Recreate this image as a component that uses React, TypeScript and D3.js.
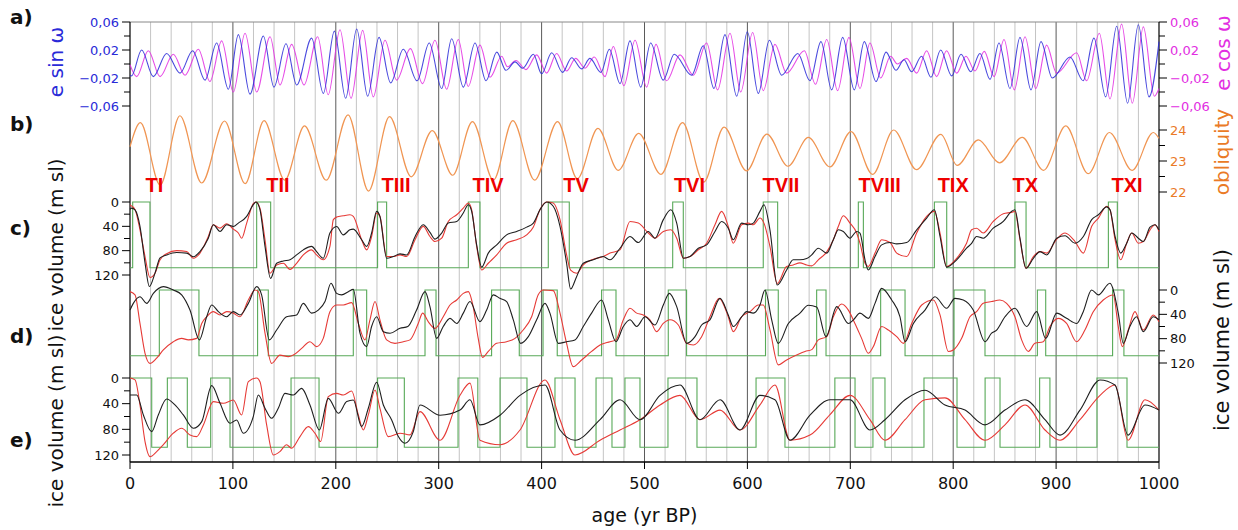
import React from "react";
import * as d3 from "d3";

type Pt = [number, number];

// ---------- data ----------
const AGE_TICKS = [0, 100, 200, 300, 400, 500, 600, 700, 800, 900, 1000];
const ECC_LABEL_TICKS = [0.06, 0.02, -0.02, -0.06];
const ECC_MINOR_TICKS = [0.04, 0, -0.04];
const OBL_LABEL_TICKS = [24, 23, 22];
const OBL_MINOR_TICKS = [23.5, 22.5];
const ICE_LABEL_TICKS = [0, 40, 80, 120];
const ICE_MINOR_TICKS = [20, 60, 100];

const TERMINATIONS: { label: string; age: number }[] = [
  { label: "TI", age: 23.8 },
  { label: "TII", age: 143.8 },
  { label: "TIII", age: 258.5 },
  { label: "TIV", age: 348 },
  { label: "TV", age: 433.4 },
  { label: "TVI", age: 543.7 },
  { label: "TVII", age: 632.6 },
  { label: "TVIII", age: 728.6 },
  { label: "TIX", age: 800 },
  { label: "TX", age: 870 },
  { label: "TXI", age: 969 },
];

const E_SIN_W: Pt[] = [[0,-0.016],[1.5,-0.017],[11.3,0.020],[22.7,-0.018],[35.6,0.015],[48.6,-0.013],[60.9,0.019],[72.9,-0.023],[84.2,0.030],[95.6,-0.036],[105.3,0.042],[116.6,-0.043],[129.6,0.040],[139.9,-0.033],[151.6,0.029],[162,-0.030],[176.5,0.037],[187.9,-0.042],[198.6,0.047],[209.6,-0.049],[220.3,0.050],[231,-0.046],[242,0.038],[253.3,-0.027],[265.6,0.021],[279,-0.024],[290.8,0.030],[302.9,-0.035],[312.6,0.036],[323.9,-0.033],[335.3,0.030],[346,-0.024],[356.4,0.017],[365.4,-0.009],[374.2,0.003],[381.6,-0.006],[392,0.014],[400,-0.014],[409.8,0.016],[420.4,-0.012],[429.2,0.009],[438.9,-0.007],[447,0.008],[457.7,-0.012],[465.8,0.021],[476.2,-0.028],[485.9,0.033],[496.3,-0.033],[506,0.030],[518.2,-0.023],[528.9,0.014],[545.8,-0.016],[557.1,0.026],[567.5,-0.035],[578.2,0.042],[589.6,-0.046],[599.9,0.046],[610.6,-0.042],[621.3,0.034],[633.3,-0.016],[649,0.015],[660.8,-0.024],[671.5,0.032],[681.9,-0.037],[692.6,0.038],[703.9,-0.037],[713.6,0.032],[725,-0.025],[734.7,0.017],[744.4,-0.009],[752.2,0.006],[759.6,-0.011],[769.3,0.011],[778.4,-0.019],[787.8,0.020],[798.5,-0.017],[807.6,0.014],[817,-0.011],[826,0.015],[835.8,-0.022],[844.5,0.030],[855.2,-0.035],[864.9,0.038],[875.6,-0.037],[885.3,0.032],[896.3,-0.020],[913.5,0.010],[926.3,-0.024],[936.8,0.037],[948.2,-0.047],[958.9,0.054],[969.5,-0.056],[979.9,0.056],[990.3,-0.047],[1000,0.032]];

const E_COS_W: Pt[] = [[0,-0.001],[6.5,-0.018],[17.8,0.019],[29.2,-0.018],[42.1,0.014],[53.5,-0.016],[66.4,0.021],[77.7,-0.025],[89.1,0.033],[100.4,-0.040],[111.8,0.044],[123.1,-0.040],[136.1,0.039],[145.8,-0.030],[157.1,0.028],[169.1,-0.030],[182.4,0.039],[192.6,-0.044],[204.1,0.049],[214.8,-0.049],[226.1,0.048],[236.4,-0.047],[247.8,0.034],[259.1,-0.023],[272.5,0.022],[284.3,-0.028],[296.4,0.034],[307.7,-0.036],[319,0.035],[328.7,-0.032],[340.1,0.027],[349.9,-0.019],[361.2,0.011],[366.8,-0.004],[375.1,0.005],[384.8,-0.008],[395.2,0.013],[404.9,-0.013],[414.6,0.015],[424.3,-0.010],[433.1,0.008],[442.2,-0.006],[451.2,0.010],[461.6,-0.018],[469.7,0.025],[480,-0.031],[490.8,0.034],[502.1,-0.033],[511.2,0.028],[521.5,-0.024],[534.5,0.013],[547.4,-0.016],[560.4,0.030],[571,-0.037],[583.1,0.044],[593.5,-0.040],[605.1,0.045],[615.4,-0.038],[626.8,0.028],[638.1,-0.013],[655.3,0.019],[666.2,-0.029],[677.1,0.035],[687.7,-0.038],[698.7,0.038],[709.4,-0.035],[719.1,0.030],[729.5,-0.020],[739.2,0.011],[745.7,0.000],[754.8,0.008],[764.5,-0.013],[774.2,0.019],[783.9,-0.018],[793.6,0.019],[803.4,-0.013],[812.4,0.011],[821.2,-0.010],[830.2,0.018],[839.7,-0.018],[849.4,0.035],[859.4,-0.037],[869.8,0.039],[880.2,-0.035],[890.8,0.027],[900.5,-0.013],[920,0.016],[929.7,-0.024],[942,0.044],[952.4,-0.050],[963.7,0.057],[974.1,-0.056],[984.8,0.053],[995.4,-0.046],[1000,-0.035]];

const OBLIQUITY: Pt[] = [[0,23.46],[10.1,24.24],[29.3,22.22],[48.5,24.46],[69.7,22.29],[91.9,24.29],[111.9,22.27],[130.3,24.30],[150.3,22.38],[169.6,24.13],[190.7,22.38],[211.9,24.49],[231.8,22.03],[252.2,24.43],[273.3,22.49],[293.7,23.98],[313.6,22.54],[332.8,24.27],[353.2,22.38],[372,24.30],[393.2,22.38],[415.5,24.27],[434.7,22.43],[454.7,24.05],[474.5,22.70],[494.3,23.89],[516,22.57],[537,24.24],[557.5,22.32],[577.3,24.09],[599.1,22.68],[618.9,23.87],[639.5,22.83],[659.2,23.76],[680.2,22.81],[700.7,23.95],[721.7,22.57],[742.2,24.00],[764.3,22.72],[788,23.86],[803.9,22.86],[824.5,23.68],[845,22.94],[867.1,23.76],[887.8,22.70],[909.4,24.13],[931.2,22.59],[951.8,23.92],[973.9,22.70],[994.5,23.92],[1000,23.73]];

const C_RED: Pt[] = [[0,5],[4.9,12.7],[9.7,45.7],[14.6,89.7],[19.4,124],[24.3,117],[29.2,95],[35.6,85],[45.4,80],[55.1,81.5],[61.6,92.5],[68,84],[76.1,56.7],[81,37.4],[87.5,43],[93.9,35.8],[100.4,44.6],[105.3,51],[108.5,59.5],[113.4,34.7],[119.8,2.8],[122.4,0],[126.3,10],[131.2,62],[136,117],[142.5,103.5],[149,100.7],[155.5,110.7],[161.9,100.7],[168.4,87],[176.5,78.7],[181.3,87],[187.8,95],[194.3,73],[197.6,29],[200.8,24.8],[207.3,22.6],[213.7,21],[217,23.7],[225.1,62],[230,78.7],[234.8,56.7],[239.7,18.2],[242.9,23.7],[249.4,89.7],[255.9,89.7],[262.4,87],[268.8,89.7],[277,62],[285,40],[291.5,56.7],[296.4,65],[302.9,59.5],[309.3,32],[317.5,21],[323.9,10],[328.8,1.7],[332,12.7],[336.9,73],[341.8,111.8],[348.2,100.7],[356.4,87],[366,67.7],[375.8,62],[385.5,54],[392,41],[398.4,12.7],[404.9,0],[411.3,1.7],[417.9,29],[424.3,87],[428.2,112],[434,117],[440.5,103.5],[450.2,94],[459.9,89.7],[466.5,84],[476.2,78.7],[485.9,32],[494,34.7],[503.7,51],[510.2,59.5],[518.3,48.4],[525.5,45.7],[531.3,59.5],[537.8,92.5],[544.2,89.7],[552.3,78.7],[560.4,67.7],[568.5,37.4],[575,15.4],[581.4,40],[586.3,67.7],[594.4,37.4],[600.9,34.7],[605.7,37.4],[612.2,26.4],[616.1,34.7],[621.9,73],[629,134],[638.1,106],[644.5,103.5],[651,100],[657.6,103.5],[662.5,105],[668.9,95],[677.1,82],[683.5,62],[688.4,40],[693.2,22.6],[699.7,34.7],[706.2,51],[709.4,67.7],[714.3,100.7],[717.5,106],[724,84],[730.5,62],[738.6,66.6],[745.1,84],[754.8,89.7],[764.5,51],[774.2,23.7],[781.7,15.4],[787.2,51],[793.6,106],[803.4,92.5],[813,67.7],[817.9,45.7],[822.7,43.1],[829.2,51],[838.9,32],[848.7,19.3],[856.7,17],[860,15.4],[864.9,62],[870.7,109],[877.9,89.7],[884.4,81.5],[890.9,84],[900.6,61],[908.7,51],[918.4,65],[926.5,84],[934.6,40],[941.1,26.4],[949.2,7],[952.4,12.7],[957.3,62],[962.8,95],[968.6,67.7],[973.5,51],[979.9,67.7],[984.8,65],[991.3,45.7],[996.1,37.4],[1000,48.4]];

const C_BLACK: Pt[] = [[0,12],[1.6,10],[4.9,13],[9.7,40],[14.6,100],[18.8,139],[24.3,117],[29.2,92],[35.6,87],[45.4,83],[55.1,84],[61.6,90],[68,81.5],[76.1,59.5],[81,37.4],[87.5,48.4],[93.9,37.4],[100.4,40.2],[105.3,34.7],[113.4,23.7],[119.8,4.4],[122.4,0],[126.3,12.7],[131.2,73],[136.6,125.5],[142.5,100.7],[149,97],[155.5,95],[161.9,87],[168.4,78.7],[176.5,73],[181.3,81.5],[187.8,92.5],[194.3,51],[200.8,40.2],[207.3,54],[213.7,45.7],[217,44.6],[225.1,62],[230,73],[234.8,51],[239.7,15.4],[242.9,23.7],[249.4,92.5],[255.9,89.7],[262.4,85.3],[268.8,87],[277,57],[285,37.4],[291.5,50],[296.4,61],[302.9,51],[309.3,34.7],[317.5,32],[323.9,18],[328.8,4.4],[332,15],[336.9,70.5],[341.8,107],[348.2,84],[356.4,70.5],[366,54],[375.8,48.4],[385.5,41.3],[392,34.7],[398.4,12.7],[404.9,0],[411.3,7],[417.9,40],[424.3,100.7],[428.2,143],[434,122.7],[440.5,100.7],[450.2,95],[459.9,89.7],[466.5,95],[476.2,76],[485.9,56.7],[494,66.6],[503.7,48.4],[510.2,59.5],[518.3,29],[525.5,12.7],[531.3,34.7],[537.8,92.5],[544.2,89.7],[552.3,76],[560.4,70.5],[568.5,48.4],[575,32],[581.4,43],[586.3,62],[594.4,34.7],[600.9,37.4],[605.7,34.7],[612.2,15.4],[616.1,4.4],[621.9,45.7],[629,136.5],[638.1,111.8],[644.5,95],[651.1,95],[657.6,93],[662.5,87],[668.9,76],[677.1,84],[683.5,62],[688.4,45.7],[693.2,48.4],[699.7,59.5],[706.2,48.4],[709.4,51],[714.3,95],[717.5,111.8],[724,89.7],[730.5,70.5],[738.6,66.6],[745.1,68.8],[754.8,66.6],[764.5,45.7],[774.2,26.4],[781.7,12.7],[787.2,56.7],[793.6,107],[803.4,95],[813,76],[817.9,68],[822.7,56.7],[829.2,59.5],[838.9,43],[848.7,32],[856.7,15.4],[860,12.7],[864.9,59.5],[870.7,109],[877.9,92.5],[884.4,81.5],[890.9,87],[900.6,59.5],[908.7,55.6],[918.4,67.7],[926.5,56.7],[934.6,29],[941.1,21],[949.2,8],[952.4,12.7],[957.3,56.7],[962.8,84],[968.6,67.7],[973.5,51],[979.9,59.5],[984.8,65],[991.3,41.3],[996.1,37.4],[1000,46]];

const C_GREEN: Pt[] = [[0,108],[2.6,0],[19.4,108],[123.1,0],[136.7,108],[240.6,0],[249.4,108],[328.8,0],[340.1,108],[406.5,0],[426.9,108],[527.4,0],[537.7,108],[615.4,0],[629.4,108],[707.8,0],[712.7,108],[781.7,0],[793.7,108],[860,0],[870.8,108],[950.8,0],[959.5,108],[1000,108]];

const D_RED: Pt[] = [[0,2.7],[4.9,8],[9.7,55],[14.6,104],[19.4,120.6],[25.9,112],[32.4,98.6],[42.1,85],[50.2,79.5],[56.7,82],[64.8,79.5],[69.7,55],[74.5,44],[81,35.6],[87.5,41],[93.9,35.6],[100.4,38],[106.9,44],[115,16.4],[121.5,0],[124.7,2.7],[131.2,71],[137.6,120.6],[145.7,107],[153.8,109.6],[158.7,107],[166.8,96],[174.9,85],[181.3,93],[187.8,79.5],[194.3,35.6],[200.8,24.7],[207.3,24.7],[215.4,20.8],[221.9,55],[228.3,82],[233.2,49],[238.1,19],[242.9,49],[249.4,82],[257.5,87.7],[265.6,85],[272.1,82],[280.1,55],[284.4,38],[289.8,52],[296.4,63],[304.4,44],[311,24.7],[317.5,16.4],[323.9,5.5],[328.8,2.7],[333.5,27.4],[338.4,79.5],[342.6,110.7],[348.2,101],[356.3,87.7],[366,85],[374.2,79.5],[382.1,65.8],[390.3,44],[396.7,8],[401.6,0],[411.3,1],[417.9,38],[424.3,87.7],[430.7,126],[438.9,115],[448.6,101],[456.8,90.4],[466.5,85],[472.3,82],[479.4,49],[485.9,30],[492.4,38],[498.8,41],[505.3,49],[511.8,68.5],[518.2,55],[524.8,49],[532.9,57.5],[540.9,87.7],[547.4,90.4],[555.5,76.7],[563.6,44],[572.6,13.7],[581.4,44],[586.3,68.5],[594.4,44],[602.5,35.6],[610.6,24.7],[615.4,24.7],[622,65.8],[630,123],[638.1,115],[647.8,107],[656,101],[662.5,98],[668.9,82],[677.1,76.7],[683.5,44],[691.6,23],[698.1,33],[704.5,55],[711,79.5],[717.5,104],[722.4,93],[730.5,60],[737,65.8],[745.1,76.7],[751.6,87.7],[759.7,55],[769.4,24.7],[780.7,16.4],[787.2,41],[795.3,101],[800.1,98.6],[808.2,79.5],[816.3,44],[822.7,35.6],[829.2,21.9],[837.3,19],[845.4,16.4],[851.9,21.9],[860,44],[866.5,82],[873,101],[879.4,87.7],[887.5,85],[894,60],[902.1,46.6],[910.2,55],[919.9,85],[928,65.8],[936.1,35.6],[945.8,16.4],[955.5,8.2],[960.4,60],[964.3,93],[970.1,65.8],[976.6,35.6],[984.7,65.8],[994.4,41],[1000,52]];

const D_BLACK: Pt[] = [[0,33],[3.2,22],[9.7,11],[16.2,22],[22.7,5.5],[32.4,-5.5],[42.1,0],[50.2,8],[58.3,33],[67.4,82],[74.5,44],[79.4,24.7],[85.9,35.6],[93.9,44],[100.4,35.6],[106.9,41],[115,22],[123.1,-5.5],[127.9,8],[135.4,82],[142.5,65.8],[152.2,44],[161.9,41],[168.4,22],[176.5,38],[183,33],[189.5,19],[195.3,-11],[200.8,5.5],[205.7,8],[212.2,2.7],[217,-1],[223.5,71],[230,93],[234.8,60],[239.7,44],[246.2,68.5],[252.7,71],[262.4,63],[270,60],[278.5,33],[286.7,2.7],[291.5,27.4],[298,79.5],[304.4,60],[311,46.6],[317.5,55],[323.9,38],[330.4,19],[340.1,52],[346.6,33],[353.1,8],[359.5,13.7],[366,19],[372.5,49],[379.6,87.7],[387.1,76.7],[395.2,49],[403.3,22],[408.1,38],[416.2,87.7],[424.3,85],[432.4,82],[440.5,60],[448.6,38],[458.3,16.4],[464.8,49],[472.3,85],[479.4,60],[485.9,49],[492.4,60],[500.5,44],[510.2,57.5],[518.3,24.7],[524.1,5.5],[531.3,27.4],[541,87.7],[549.1,76.7],[555.5,57.5],[563.6,49],[573.4,13.7],[581.4,41],[586.3,60],[594.4,44],[599.3,35.6],[605.7,38],[612.2,24.7],[617.1,0],[623.6,49],[630,87.7],[639.8,55],[651.1,38],[659.2,25],[667.3,28],[676.4,76.7],[686.8,27.4],[698.1,55],[703,49],[709.4,38],[717.5,46.6],[724,22],[730.5,-2.7],[740.2,16.4],[748.3,44],[753.2,85],[761.3,55],[772.6,33],[782.3,11],[793.6,30],[801.7,13.7],[809.8,16.4],[819.5,33],[830.9,85],[837.3,71],[842.2,65.8],[850.3,44],[860,30],[871.4,60],[881.1,35.6],[889.9,79.5],[900.6,38],[910.2,46.6],[920,55],[926.4,35.6],[934.5,0],[941,8],[952.3,-11],[960.4,38],[965.3,87.7],[971.7,60],[978.2,44],[984.7,68.5],[994.4,44],[1000,49]];

const D_GREEN: Pt[] = [[0,108],[28.5,0],[67,108],[124,0],[134.4,108],[217,0],[230,108],[286.7,0],[297.4,108],[351.4,0],[378.3,108],[401.4,0],[415.2,108],[458.3,0],[472.3,108],[523.1,0],[540.9,108],[617.6,0],[630,108],[667.3,0],[676.4,108],[729.5,0],[753.2,108],[800.8,0],[830.9,108],[881.8,0],[889.9,108],[954.9,0],[965.9,108],[1000,108]];

const E_RED: Pt[] = [[0,0],[4.9,3],[9.7,42],[14.6,99],[19.4,122.5],[25.9,114.7],[32.4,104],[42.1,86],[50.2,78.4],[58.3,88.7],[64.8,91.3],[71.3,73.2],[81,36.8],[90.7,39.4],[100.4,34.3],[108.5,57.6],[115,5.7],[123.1,0],[126.3,5.7],[132.8,73.2],[139.3,120],[145.7,114.7],[152.2,104],[157.1,109.5],[165.2,91.3],[173.3,75.8],[179.7,86],[185.3,99],[192.7,29],[200.8,23.9],[207.3,26.5],[215.4,20.2],[221.9,57.6],[226.7,81],[231.6,57.6],[238.1,18.7],[242.9,47.2],[251,91.3],[262.4,86],[272.1,88.7],[281.8,52.4],[301.3,97],[320.7,27],[330.4,8],[340.1,97],[359.6,104],[379,81],[403.3,3],[417.9,65],[432.5,120],[456.8,97],[476.2,81],[495.6,65],[515.1,42],[534.5,27],[553.9,65],[573.4,50],[592.8,81],[612.2,42],[626.8,11],[641.4,97],[660.8,89],[680.3,57],[699.7,27],[719.1,65],[733.7,97],[753.2,65],[772.6,34],[792,31],[811.5,65],[830.9,97],[850.3,73],[869.8,42],[889.2,81],[903.8,97],[923.2,65],[942.7,27],[957.2,11],[969.9,97],[986.4,34],[1000,50]];

const E_BLACK: Pt[] = [[0,26.5],[6.5,26.5],[13,57.6],[21.1,83.6],[27.5,57.6],[35.6,32.7],[43.7,42],[51.8,57.6],[61.6,78.4],[69.7,68],[79.4,11.9],[87.5,39.4],[97.2,70.6],[103.6,65.4],[110.1,86],[119.8,60.2],[124.7,26.5],[131.2,47.2],[137.6,62.8],[144.1,47.2],[150.6,23.9],[158.7,26.5],[166.8,16.1],[174.9,42],[184,81],[192.7,31.7],[202.5,55],[210.6,36.8],[217,34.3],[225.1,75.8],[231.6,47.2],[239.7,6.7],[246.2,42],[254.3,65.4],[260.8,91.3],[267.2,101.7],[275.3,83.6],[281.8,42],[301.3,58],[320.7,50],[330.4,34],[340.1,73],[359.6,58],[379,27],[403.3,11],[417.9,81],[432.5,97],[456.8,65],[476.2,34],[495.6,65],[515.1,27],[534.5,11],[553.9,65],[573.4,34],[592.8,81],[612.2,27],[626.8,34],[641.4,97],[660.8,58],[680.3,34],[699.7,34],[719.1,81],[733.7,65],[753.2,34],[772.6,19],[792,42],[811.5,50],[830.9,73],[850.3,50],[869.8,34],[889.2,65],[903.8,89],[923.2,50],[942.7,3],[957.2,11],[969.9,89],[986.4,42],[1000,50]];

const E_GREEN: Pt[] = [[0,0],[21.1,108],[36.3,0],[55.7,108],[78.4,0],[97.2,108],[156.5,0],[183.7,108],[240.6,0],[266.6,108],[318.8,0],[338,108],[359.6,0],[385.8,108],[413,0],[432.5,108],[452.9,0],[468.4,108],[481,0],[495.6,108],[522.8,0],[551,108],[608.4,0],[636.5,108],[685,0],[704.6,108],[722,0],[733.7,108],[771.6,0],[803.7,108],[831,0],[845.5,108],[884,0],[894,108],[939.7,0],[968.9,108],[1000,108]];

// ---------- styles ----------
const FONT = "DejaVu Sans, Verdana, sans-serif";
const BLUE = "#2a2ad8";
const MAGENTA = "#e22ee2";
const ORANGE = "#ea7a26";
const ORANGE_LINE = "#f09552";
const RED_LINE = "#e63a36";
const BLACK_LINE = "#1e1e1e";
const GREEN_LINE = "#58a958";

export default function App() {
  const W = 1238;
  const H = 530;
  const X0 = 130;
  const X1 = 1159;
  const TOP = 22;
  const BOTTOM = 462;

  const x = d3.scaleLinear().domain([0, 1000]).range([X0, X1]);
  const yA = d3.scaleLinear().domain([-0.06, 0.06]).range([106, 22]);
  const yB = d3.scaleLinear().domain([22, 24]).range([192, 130]);
  const yC = d3.scaleLinear().domain([0, 120]).range([202, 275]);
  const yD = d3.scaleLinear().domain([0, 120]).range([290, 363]);
  const yE = d3.scaleLinear().domain([0, 120]).range([378, 455]);

  const smooth = (ys: d3.ScaleLinear<number, number>) =>
    d3.line<Pt>().x((d) => x(d[0])).y((d) => ys(d[1])).curve(d3.curveMonotoneX);
  const stepped = (ys: d3.ScaleLinear<number, number>) =>
    d3.line<Pt>().x((d) => x(d[0])).y((d) => ys(d[1])).curve(d3.curveStepAfter);

  const grid = d3.range(20, 1000, 20);

  const leftTicks = (ys: d3.ScaleLinear<number, number>, labeled: number[], minor: number[], fmt: (v: number) => string, color: string, key: string) => (
    <g key={key}>
      {labeled.map((v) => (
        <g key={"l" + v}>
          <line x1={X0 - 8} x2={X0} y1={ys(v)} y2={ys(v)} stroke="#000" strokeWidth={1} />
          <text x={X0 - 11} y={ys(v)} dy="0.36em" textAnchor="end" fontSize={13} fill={color} fontFamily={FONT}>{fmt(v)}</text>
        </g>
      ))}
      {minor.map((v) => (
        <line key={"m" + v} x1={X0 - 6} x2={X0} y1={ys(v)} y2={ys(v)} stroke="#000" strokeWidth={1} />
      ))}
    </g>
  );
  const rightTicks = (ys: d3.ScaleLinear<number, number>, labeled: number[], minor: number[], fmt: (v: number) => string, color: string, key: string) => (
    <g key={key}>
      {labeled.map((v) => (
        <g key={"l" + v}>
          <line x1={X1} x2={X1 + 8} y1={ys(v)} y2={ys(v)} stroke="#000" strokeWidth={1} />
          <text x={X1 + 11} y={ys(v)} dy="0.36em" textAnchor="start" fontSize={13} fill={color} fontFamily={FONT}>{fmt(v)}</text>
        </g>
      ))}
      {minor.map((v) => (
        <line key={"m" + v} x1={X1} x2={X1 + 6} y1={ys(v)} y2={ys(v)} stroke="#000" strokeWidth={1} />
      ))}
    </g>
  );
  const eccFmt = (v: number) => (v < 0 ? "\u2212" : "") + Math.abs(v).toFixed(2).replace(".", ",");
  const intFmt = (v: number) => String(v);

  const panelLetters: [string, number][] = [["a)", 24], ["b)", 131], ["c)", 235], ["d)", 343], ["e)", 447]];

  return (
    <svg width={W} height={H} style={{ position: "absolute", left: 0, top: 0, background: "#fff" }} fontFamily={FONT}>
      <rect x={0} y={0} width={W} height={H} fill="#fff" />
      {/* grid */}
      {grid.map((a) => (
        <line key={a} x1={x(a)} x2={x(a)} y1={TOP} y2={BOTTOM}
          stroke={a % 100 === 0 ? "#5a5a5a" : "#c4c4c4"} strokeWidth={1} />
      ))}
      {/* frame */}
      <line x1={X0} x2={X1} y1={TOP} y2={TOP} stroke="#888" strokeWidth={1} />
      <line x1={X0} x2={X0} y1={TOP} y2={BOTTOM} stroke="#000" strokeWidth={1.2} />
      <line x1={X1} x2={X1} y1={TOP} y2={BOTTOM} stroke="#000" strokeWidth={1.2} />
      <line x1={X0} x2={X1} y1={BOTTOM} y2={BOTTOM} stroke="#000" strokeWidth={1.5} />

      {/* panel a */}
      <path d={smooth(yA)(E_COS_W) || ""} fill="none" stroke={MAGENTA} strokeWidth={1.1} opacity={0.85} />
      <path d={smooth(yA)(E_SIN_W) || ""} fill="none" stroke={BLUE} strokeWidth={1.1} opacity={0.85} />
      {/* panel b */}
      <path d={smooth(yB)(OBLIQUITY) || ""} fill="none" stroke={ORANGE_LINE} strokeWidth={1.2} />

      {/* green square waves */}
      <path d={stepped(yC)(C_GREEN) || ""} fill="none" stroke={GREEN_LINE} strokeWidth={1.1} />
      <path d={stepped(yD)(D_GREEN) || ""} fill="none" stroke={GREEN_LINE} strokeWidth={1.1} />
      <path d={stepped(yE)(E_GREEN) || ""} fill="none" stroke={GREEN_LINE} strokeWidth={1.1} />

      {/* ice curves */}
      <path d={smooth(yC)(C_RED) || ""} fill="none" stroke={RED_LINE} strokeWidth={1.1} />
      <path d={smooth(yC)(C_BLACK) || ""} fill="none" stroke={BLACK_LINE} strokeWidth={1.1} />
      <path d={smooth(yD)(D_RED) || ""} fill="none" stroke={RED_LINE} strokeWidth={1.1} />
      <path d={smooth(yD)(D_BLACK) || ""} fill="none" stroke={BLACK_LINE} strokeWidth={1.1} />
      <path d={smooth(yE)(E_RED) || ""} fill="none" stroke={RED_LINE} strokeWidth={1.1} />
      <path d={smooth(yE)(E_BLACK) || ""} fill="none" stroke={BLACK_LINE} strokeWidth={1.1} />

      {/* terminations */}
      {TERMINATIONS.map((t) => (
        <text key={t.label} x={x(t.age)} y={192} textAnchor="middle" fontSize={20} fontWeight="bold"
          fill="#ee0000" fontFamily="Liberation Sans, Arial, sans-serif">{t.label}</text>
      ))}

      {/* axes ticks */}
      {leftTicks(yA, ECC_LABEL_TICKS, ECC_MINOR_TICKS, eccFmt, BLUE, "la")}
      {rightTicks(yA, ECC_LABEL_TICKS, ECC_MINOR_TICKS, eccFmt, MAGENTA, "ra")}
      {rightTicks(yB, OBL_LABEL_TICKS, OBL_MINOR_TICKS, intFmt, ORANGE, "rb")}
      {leftTicks(yC, ICE_LABEL_TICKS, ICE_MINOR_TICKS, intFmt, "#111", "lc")}
      {rightTicks(yD, ICE_LABEL_TICKS, ICE_MINOR_TICKS, intFmt, "#111", "rd")}
      {leftTicks(yE, ICE_LABEL_TICKS, ICE_MINOR_TICKS, intFmt, "#111", "le")}

      {/* bottom axis */}
      {AGE_TICKS.map((a) => (
        <g key={"xt" + a}>
          <line x1={x(a)} x2={x(a)} y1={BOTTOM} y2={BOTTOM + 7} stroke="#000" strokeWidth={1} />
          <text x={x(a)} y={BOTTOM + 27} textAnchor="middle" fontSize={16} fill="#111">{a}</text>
        </g>
      ))}
      <text x={(X0 + X1) / 2} y={522} textAnchor="middle" fontSize={19} fill="#111">age (yr BP)</text>

      {/* axis titles */}
      <text transform="translate(63,62) rotate(-90)" textAnchor="middle" fontSize={20} fill={BLUE}>e sin ω</text>
      <text transform="translate(63,245) rotate(-90)" textAnchor="middle" fontSize={20} fill="#111">ice volume (m sl)</text>
      <text transform="translate(63,421) rotate(-90)" textAnchor="middle" fontSize={20} fill="#111">ice volume (m sl)</text>
      <text transform="translate(1230,53) rotate(-90)" textAnchor="middle" fontSize={20} fill={MAGENTA}>e cos ω</text>
      <text transform="translate(1229,152) rotate(-90)" textAnchor="middle" fontSize={20} fill={ORANGE}>obliquity</text>
      <text transform="translate(1229,340) rotate(-90)" textAnchor="middle" fontSize={21} fill="#111">ice volume (m sl)</text>

      {/* panel letters */}
      {panelLetters.map(([s, yy]) => (
        <text key={s} x={10} y={yy} fontSize={20} fontWeight="bold" fill="#111">{s}</text>
      ))}
    </svg>
  );
}
